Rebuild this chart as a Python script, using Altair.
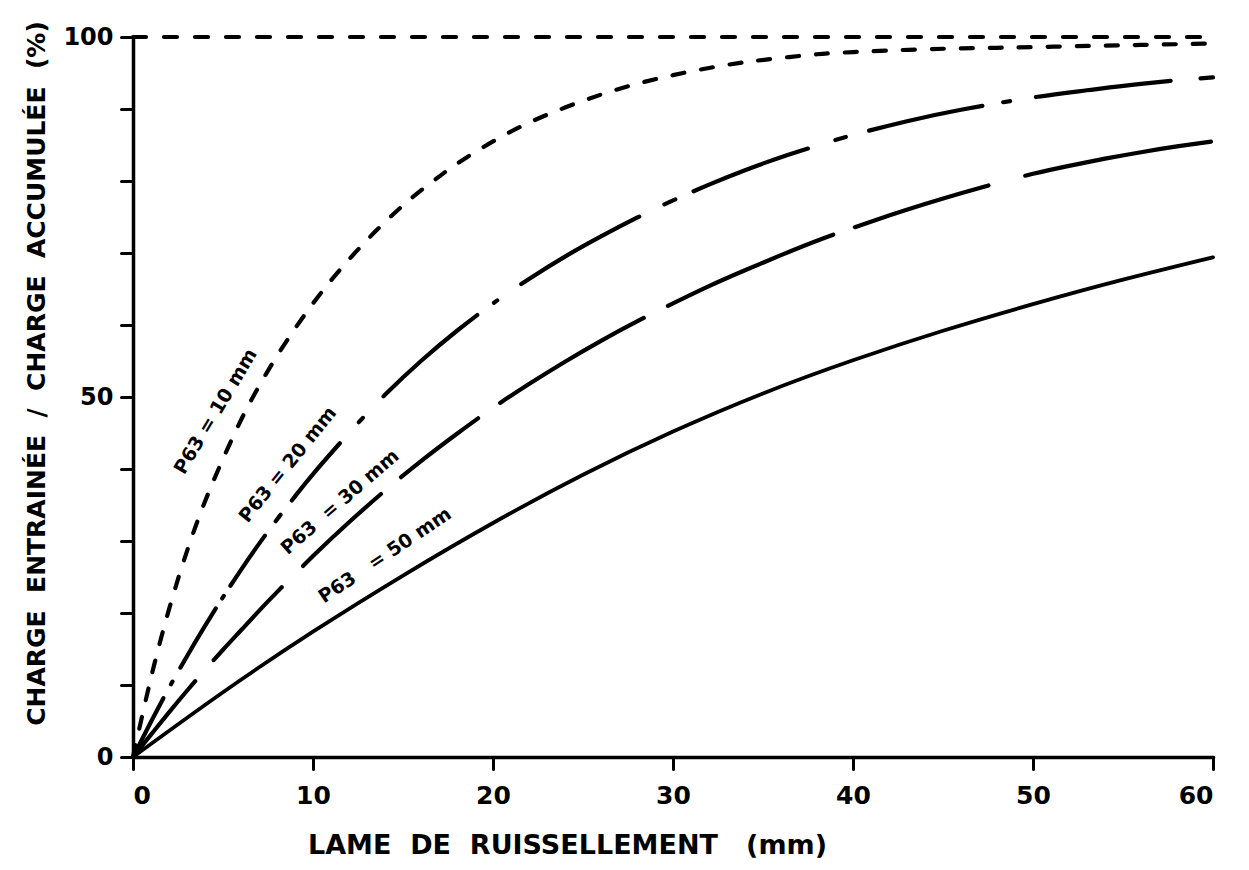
import altair as alt
import pandas as pd

# ---- data ----
x_10 = [0, 1, 2, 3, 4, 5, 6, 7, 8, 9, 10, 11, 12, 13, 14, 15, 16, 17, 18, 20, 22, 24, 26,
        28, 30, 32, 34, 36, 38, 40, 44, 48, 52, 56, 60]
y_10 = [0, 11.0, 20.5, 28.6, 35.5, 41.4, 46.8, 51.5, 55.7, 59.5, 63.0, 66.2, 69.1, 71.8, 74.3,
        76.6, 78.7, 80.6, 82.4, 85.5, 88.1, 90.2, 92.0, 93.5, 94.7, 95.7, 96.5, 97.1, 97.6, 97.9,
        98.3, 98.5, 98.7, 98.9, 99.1]

x_20 = [0, 1, 2, 3, 4, 5, 6, 7, 8, 9, 10, 12, 14, 16, 18, 20, 22, 24, 26, 28, 30, 32, 34, 36, 38,
        40, 43, 46, 50, 53, 56, 60]
y_20 = [0, 4.9, 9.6, 14.0, 18.2, 22.2, 26.0, 29.6, 33.0, 36.2, 39.3, 45.0, 50.3, 55.0, 59.2,
        63.0, 66.4, 69.5, 72.3, 74.9, 77.3, 79.5, 81.5, 83.3, 84.9, 86.4, 88.3, 89.9, 91.6, 92.6,
        93.5, 94.4]

x_30 = [0, 1, 2, 3, 4, 5, 6, 7, 8, 10, 12, 14, 16, 18, 20, 22, 24, 26, 28, 30, 32, 34, 36, 38,
        40, 42, 44, 46, 48, 50, 52, 54, 56, 58, 60]
y_30 = [0, 3.1, 6.2, 9.2, 12.1, 14.9, 17.6, 20.3, 22.9, 27.9, 32.6, 37.0, 41.1, 44.9, 48.5, 51.8,
        54.9, 57.8, 60.5, 63.0, 65.4, 67.6, 69.7, 71.7, 73.5, 75.2, 76.8, 78.3, 79.7, 81.0, 82.1,
        83.1, 84.0, 84.8, 85.5]

x_50 = [0, 5, 10, 15, 20, 25, 30, 35, 40, 45, 50, 55, 60]
y_50 = [0, 9.0, 17.4, 25.2, 32.5, 39.2, 45.2, 50.5, 55.1, 59.2, 62.9, 66.3, 69.4]

ref_x = [0, 60]
ref_y = [100, 100]

curve_names = ["P63 = 10 mm", "P63 = 20 mm", "P63 = 30 mm", "P63 = 50 mm"]
label_text = ["P63 = 10 mm", "P63 = 20 mm", "P63 \u00a0= 30 mm", "P63 \u00a0 = 50 mm"]
label_x = [4.6, 8.6, 11.5, 14.0]
label_y = [48.0, 40.6, 35.4, 28.0]
label_angle = [301, 309, 319, 326]

x_ticks = [0, 10, 20, 30, 40, 50, 60]
y_ticks = [0, 10, 20, 30, 40, 50, 60, 70, 80, 90, 100]

NB = "\u00a0"
x_title = f"LAME {NB}DE {NB}RUISSELLEMENT {NB}{NB}(mm)"
y_title = f"CHARGE {NB}ENTRAINÉE {NB}/ {NB}CHARGE {NB}ACCUMULÉE {NB}(%)"

# ---- build tables ----
def frame(xs, ys, name):
    return pd.DataFrame({"x": xs, "y": ys, "curve": name})

df = pd.concat([
    frame(x_10, y_10, curve_names[0]),
    frame(x_20, y_20, curve_names[1]),
    frame(x_30, y_30, curve_names[2]),
    frame(x_50, y_50, curve_names[3]),
    frame(ref_x, ref_y, "ref"),
], ignore_index=True)

labels = pd.DataFrame({"x": label_x, "y": label_y, "text": label_text, "angle": label_angle})

FONT = "DejaVu Sans"

x_enc = alt.X("x:Q",
              scale=alt.Scale(domain=[0, 60], nice=False),
              axis=alt.Axis(values=x_ticks, title=x_title, labelPadding=14,
                            labelFontSize=25, titleX=434, titleY=88,
                            titleAlign="center", titleBaseline="middle",
                            titleFontSize=27))
y_enc = alt.Y("y:Q",
              scale=alt.Scale(domain=[0, 100], nice=False),
              axis=alt.Axis(values=y_ticks, title=y_title,
                            labelExpr="datum.value % 50 == 0 ? datum.label : ''",
                            labelPadding=8, labelFontSize=24,
                            titleAngle=270, titleX=-97, titleY=336,
                            titleAlign="center", titleBaseline="middle",
                            titleFontSize=25))

base = alt.Chart(df)

dash_10 = [12, 17]
dash_ref = [13, 18]
dash_20 = [66, 16, 3, 16, 69, 12, 3, 12, 61, 18, 8, 18, 75, 28, 6, 30, 124, 21, 4, 29,
           136, 28, 12, 20, 122, 29, 11, 24, 116, 21, 7, 26, 136, 30]
dash_30 = [98, 28, 100, 30, 106, 26, 97, 27, 167, 27, 180, 23, 140, 38, 189, 40]

def curve_layer(name, dash, width=4.2, interp="natural"):
    props = dict(color="black", strokeWidth=width, strokeCap="round", interpolate=interp)
    if dash:
        props["strokeDash"] = dash
    return base.transform_filter(alt.datum.curve == name).mark_line(**props).encode(
        x=x_enc, y=y_enc, detail="curve:N")

layers = [
    curve_layer("ref", dash_ref, interp="linear"),
    curve_layer(curve_names[0], dash_10),
    curve_layer(curve_names[1], dash_20),
    curve_layer(curve_names[2], dash_30),
    curve_layer(curve_names[3], None, 3.8),
]

text = alt.Chart(labels).mark_text(
    font=FONT, fontWeight="bold", fontSize=19, color="black",
    align="center", baseline="middle"
).encode(
    x=alt.X("x:Q"), y=alt.Y("y:Q"), text="text:N",
    angle=alt.Angle("angle:Q", scale=None)
)

chart = alt.layer(*layers, text).properties(
    width=1080, height=720,
    autosize=alt.AutoSizeParams(type="none"),
    padding={"left": 125, "top": 29, "right": 28, "bottom": 112},
    background="white",
).configure_view(stroke=None).configure_axis(
    grid=False, domainColor="black", domainWidth=3.5, tickColor="black",
    tickWidth=3, tickSize=12, labelColor="black", titleColor="black",
    labelFont=FONT, titleFont=FONT, labelFontWeight="bold", titleFontWeight="bold",
    domainCap="round", tickCap="round"
)

chart.save("out.html", embed_options={"renderer": "svg", "actions": False})
